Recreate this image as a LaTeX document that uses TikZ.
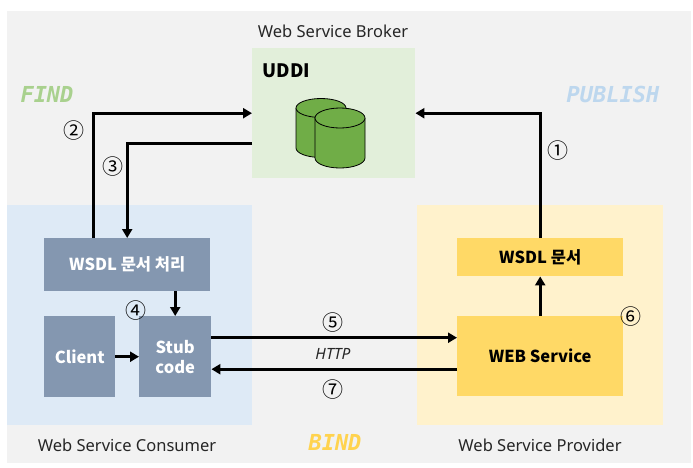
\documentclass[tikz,border=0pt]{standalone}
\usepackage{fontspec}
\setmainfont{Noto Sans}
\newfontfamily\cjk{Noto Sans CJK KR}
\newfontfamily\monobold{DejaVu Sans Mono}
\usetikzlibrary{arrows.meta}

\definecolor{bggray}{HTML}{F2F2F2}
\definecolor{consumerbg}{HTML}{DEEAF6}
\definecolor{brokerbg}{HTML}{E2EFDA}
\definecolor{providerbg}{HTML}{FFF2CC}
\definecolor{slatebox}{HTML}{8497B0}
\definecolor{goldbox}{HTML}{FFD966}
\definecolor{dbgreen}{HTML}{70AD47}
\definecolor{findgreen}{HTML}{A9D18E}
\definecolor{publishblue}{HTML}{BDD7EE}
\definecolor{bindgold}{HTML}{FFD34F}

\tikzset{
  area/.style={anchor=north west,inner sep=0pt},
  slate/.style={area,fill=slatebox,text=white,font=\cjk\fontsize{16.5}{20}\selectfont\bfseries},
  gold/.style={area,fill=goldbox,text=black,font=\cjk\fontsize{16.5}{20}\selectfont\bfseries},
  flow/.style={line width=3pt,-{Triangle[length=9pt,width=10pt]}},
  stepnum/.style={font=\cjk\fontsize{21}{24}\selectfont},
  caption/.style={font=\fontsize{16.5}{19}\selectfont,text=black!85},
  verb/.style={font=\monobold\fontsize{22}{24}\selectfont\bfseries\itshape}
}

\begin{document}
\begin{tikzpicture}[x=1pt,y=-1pt]
\useasboundingbox (0,0) rectangle (693,467);
\fill[bggray] (7,11) rectangle (691,463);

% three parties
\node[area,fill=consumerbg,minimum width=245pt,minimum height=220pt] (consumer) at (7,205) {};
\node[area,fill=brokerbg,minimum width=163pt,minimum height=130pt] (broker) at (252,48) {};
\node[area,fill=providerbg,minimum width=246pt,minimum height=220pt] (provider) at (417,205) {};

\node[caption] (brokername) at (333,31) {Web Service Broker};
\node[caption] (consumername) at (127,445) {Web Service Consumer};
\node[caption] (providername) at (540,445) {Web Service Provider};

\node[font=\cjk\fontsize{18.5}{22}\selectfont\bfseries,anchor=west] (uddi) at (259,71) {UDDI};

% database
\draw[thick,fill=dbgreen] (296,108) -- (296,148) arc[start angle=180,end angle=360,x radius=25,y radius=-9.5] -- (346,108);
\draw[thick,fill=dbgreen] (321,108) ellipse[x radius=25,y radius=9.5];
\draw[thick,fill=dbgreen] (315,118) -- (315,158) arc[start angle=180,end angle=360,x radius=25,y radius=-10] -- (365,118);
\draw[thick,fill=dbgreen] (340,118) ellipse[x radius=25,y radius=10];

% boxes
\node[slate,minimum width=166pt,minimum height=53pt] (wsdlproc) at (44,238) {WSDL 문서 처리};
\node[slate,minimum width=71pt,minimum height=81pt] (client) at (44,316) {Client};
\node[slate,minimum width=72pt,minimum height=81pt,align=center] (stub) at (139,316) {Stub\\code};
\node[gold,minimum width=166pt,minimum height=38pt] (wsdldoc) at (457,238) {WSDL 문서};
\node[gold,minimum width=166pt,minimum height=80pt] (websvc) at (457,316) {WEB Service};

% connectors
\draw[flow] (wsdldoc.north) |- (broker.east);
\draw[flow] ([xshift=-34pt]wsdlproc.north) |- (broker.west);
\draw[flow] ([yshift=-30pt]broker.west) -| (wsdlproc.north);
\draw[flow] (stub.north |- wsdlproc.south) -- (stub.north);
\draw[flow] (client.east) -- (stub.west |- client.east);
\draw[flow] ([yshift=19pt]stub.east) -- ([yshift=19pt]stub.east -| websvc.west);
\draw[flow] (websvc.north) -- (wsdldoc.south);
\draw[flow] ([yshift=-13pt]websvc.west) -- ([yshift=-13pt]websvc.west -| stub.east);

% step numbers
\node[stepnum] (s1) at (558,151) {①};
\node[stepnum] (s2) at (74,131) {②};
\node[stepnum] (s3) at (113,167) {③};
\node[stepnum] (s4) at (136,311) {④};
\node[stepnum] (s5) at (333,323) {⑤};
\node[stepnum] (s6) at (631,317) {⑥};
\node[stepnum] (s7) at (333,390) {⑦};
\node[font=\fontsize{15.5}{18}\selectfont\itshape,text=black!85] (http) at (333,354) {HTTP};

\node[verb,text=findgreen] (find) at (47,94) {FIND};
\node[verb,text=publishblue] (publish) at (613,94) {PUBLISH};
\node[verb,text=bindgold] (bind) at (335,442) {BIND};
\end{tikzpicture}
\end{document}
